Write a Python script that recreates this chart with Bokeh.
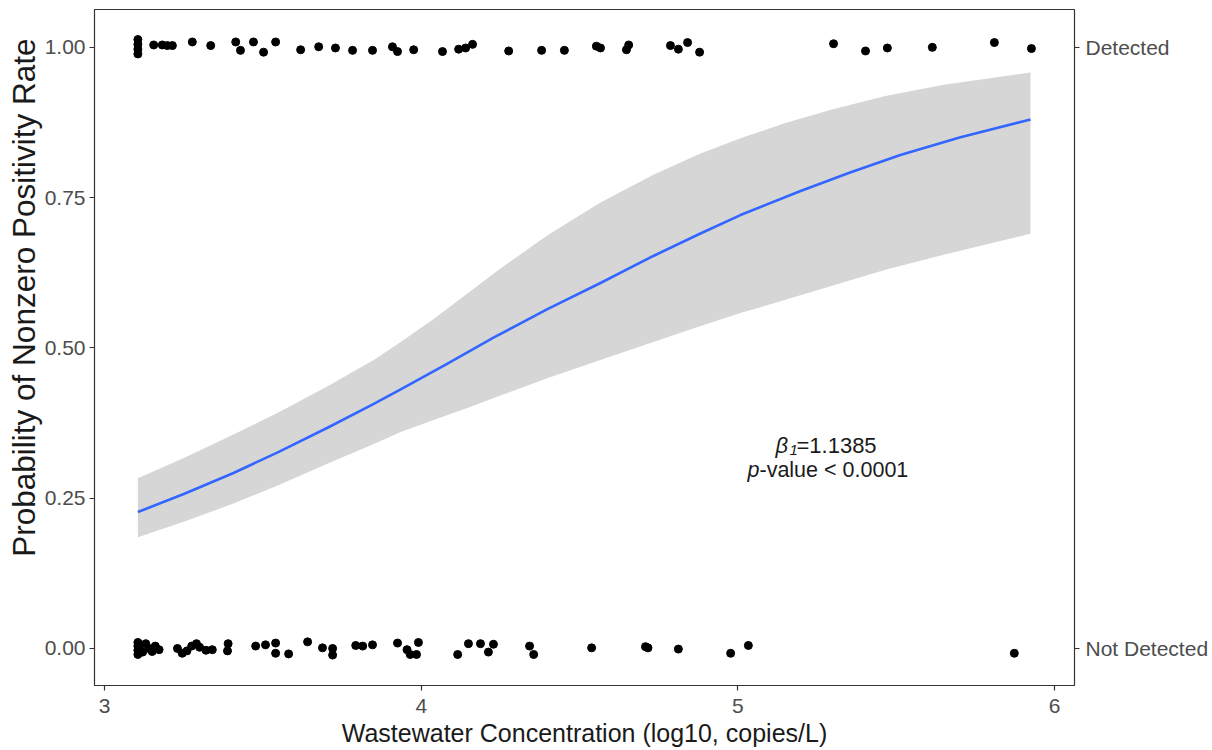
from bokeh.plotting import figure
from bokeh.models import Range1d, LinearAxis, FixedTicker, Label, Title
from bokeh.embed import file_html
from bokeh.resources import INLINE

# ---------------- data ----------------
# Detected observations (y = 1, jittered)
det_x = [3.105, 3.105, 3.105, 3.105, 3.155, 3.182, 3.198, 3.214, 3.277, 3.335,
         3.414, 3.429, 3.470, 3.502, 3.540, 3.619, 3.676, 3.729, 3.783, 3.846,
         3.909, 3.925, 3.976, 4.067, 4.118, 4.140, 4.162, 4.276, 4.380, 4.452,
         4.553, 4.566, 4.648, 4.655, 4.787, 4.812, 4.841, 4.879, 5.302, 5.403,
         5.472, 5.614, 5.810, 5.927]
det_y = [1.013, 1.005, 0.997, 0.989, 1.004, 1.004, 1.003, 1.003, 1.009, 1.003,
         1.009, 0.995, 1.009, 0.992, 1.009, 0.996, 1.001, 0.999, 0.995, 0.995,
         1.001, 0.993, 0.996, 0.993, 0.997, 0.999, 1.005, 0.994, 0.995, 0.995,
         1.002, 0.999, 0.996, 1.004, 1.003, 0.997, 1.008, 0.992, 1.006, 0.994,
         0.999, 1.000, 1.008, 0.998]

# Not detected observations (y = 0, jittered)
nd_x = [3.105, 3.105, 3.105, 3.105, 3.112, 3.120, 3.130, 3.140, 3.150, 3.160,
        3.172, 3.230, 3.245, 3.260, 3.275, 3.290, 3.300, 3.320, 3.340, 3.390,
        3.388, 3.477, 3.508, 3.540, 3.540, 3.581, 3.641, 3.688, 3.720, 3.720,
        3.793, 3.815, 3.846, 3.925, 3.955, 3.965, 3.985, 3.991, 4.115, 4.149,
        4.187, 4.212, 4.228, 4.342, 4.355, 4.538, 4.708, 4.716, 4.812, 4.977,
        5.033, 5.873]
nd_y = [0.010, 0.004, -0.003, -0.010, 0.006, -0.006, 0.008, 0.000, -0.005, 0.004,
        -0.002, 0.000, -0.008, -0.004, 0.004, 0.008, 0.002, -0.003, -0.002, 0.008,
        -0.004, 0.004, 0.006, 0.009, -0.008, -0.009, 0.011, 0.001, 0.000, -0.011,
        0.005, 0.004, 0.006, 0.009, -0.002, -0.010, -0.010, 0.010, -0.010, 0.008,
        0.008, -0.006, 0.007, 0.004, -0.010, 0.001, 0.003, 0.001, -0.001, -0.008,
        0.005, -0.008]

# Fitted logistic curve
fit_x = [3.105, 3.250, 3.407, 3.550, 3.707, 3.850, 3.935, 4.080, 4.228, 4.400,
         4.566, 4.733, 4.880, 5.008, 5.198, 5.350, 5.513, 5.700, 5.924]
fit_y = [0.227, 0.257, 0.292, 0.327, 0.368, 0.407, 0.431, 0.473, 0.517, 0.565,
         0.608, 0.653, 0.690, 0.721, 0.761, 0.791, 0.821, 0.850, 0.880]

# Confidence band
band_x = [3.105, 3.250, 3.407, 3.550, 3.707, 3.850, 3.935, 4.039, 4.150, 4.250,
          4.400, 4.566, 4.733, 4.880, 5.008, 5.150, 5.300, 5.466, 5.650, 5.924]
band_hi = [0.283, 0.317, 0.356, 0.393, 0.437, 0.480, 0.510, 0.548, 0.592, 0.632,
           0.688, 0.742, 0.788, 0.823, 0.849, 0.874, 0.897, 0.919, 0.938, 0.958]
band_lo = [0.185, 0.211, 0.241, 0.272, 0.308, 0.340, 0.360, 0.380, 0.401, 0.421,
           0.450, 0.480, 0.510, 0.536, 0.558, 0.580, 0.604, 0.630, 0.655, 0.690]

y_ticks = [0.0, 0.25, 0.5, 0.75, 1.0]
y_tick_labels = ["0.00", "0.25", "0.50", "0.75", "1.00"]
x_ticks = [3, 4, 5, 6]
right_ticks = [0, 1]
right_labels = ["Not Detected", "Detected"]

x_title = "Wastewater Concentration (log10, copies/L)"
y_title = "Probability of Nonzero Positivity Rate"

# ---------------- figure ----------------
FONT = "Liberation Sans"
TICK_COL = "#4d4d4d"
TITLE_COL = "#1a1a1a"

p = figure(width=1212, height=750, output_backend="svg", toolbar_location=None,
           x_range=Range1d(2.968, 6.063), y_range=Range1d(-0.0616, 1.063),
           min_border_left=94, min_border_right=138, min_border_top=9,
           min_border_bottom=65)
p.background_fill_color = "white"
p.border_fill_color = "white"
p.outline_line_color = "#333333"
p.outline_line_width = 1.2
p.xgrid.visible = False
p.ygrid.visible = False

# confidence band
p.varea(x=band_x, y1=band_lo, y2=band_hi, fill_color="#999999", fill_alpha=0.4)
# fitted line
p.line(fit_x, fit_y, line_color="#3366FF", line_width=2.6, line_join="round")
# points
p.scatter(det_x, det_y, size=8, color="black")
p.scatter(nd_x, nd_y, size=8, color="black")

# axes styling
def style_axis(ax, ticks, overrides, size):
    ax.ticker = FixedTicker(ticks=ticks)
    if overrides is not None:
        ax.major_label_overrides = overrides
    ax.axis_line_color = None
    ax.major_tick_line_color = "#333333"
    ax.major_tick_line_width = 1.2
    ax.major_tick_out = 5
    ax.major_tick_in = 0
    ax.minor_tick_line_color = None
    ax.major_label_text_font = FONT
    ax.major_label_text_font_size = size
    ax.major_label_text_color = TICK_COL
    ax.major_label_standoff = 5

xa = p.xaxis[0]
style_axis(xa, x_ticks, None, "21px")
xa.major_label_standoff = 8
xa.axis_label = x_title
xa.axis_label_text_font = FONT
xa.axis_label_text_font_size = "25px"
xa.axis_label_text_font_style = "normal"
xa.axis_label_text_color = TITLE_COL
xa.axis_label_standoff = 3

ya = p.yaxis[0]
style_axis(ya, y_ticks, {t: l for t, l in zip(y_ticks, y_tick_labels)}, "21px")
ya.major_label_standoff = 4

ra = LinearAxis()
style_axis(ra, right_ticks, {t: l for t, l in zip(right_ticks, right_labels)}, "21px")
ra.major_label_standoff = 6
p.add_layout(ra, "right")

# y-axis title as a left-side title, aligned towards the top of the panel
p.add_layout(Title(text=y_title, align="right", offset=29, text_font=FONT,
                   text_font_size="31.5px", text_font_style="normal",
                   text_color=TITLE_COL, standoff=0), "left")

# annotation
ax0 = 5.286
common = dict(text_font=FONT, text_color=TITLE_COL, text_baseline="alphabetic")
p.add_layout(Label(x=ax0, y=0.338, x_offset=-53, text="β", text_font_size="22px",
                   text_font_style="italic", text_align="left", **common))
p.add_layout(Label(x=ax0, y=0.3305, x_offset=-39, text="1", text_font_size="15px",
                   text_font_style="italic", text_align="left", **common))
p.add_layout(Label(x=ax0, y=0.338, x_offset=-32, text="=1.1385", text_font_size="22px",
                   text_align="left", **common))
p.add_layout(Label(x=ax0, y=0.297, x_offset=-81, text="p", text_font_size="21.5px",
                   text_font_style="italic", text_align="left", **common))
p.add_layout(Label(x=ax0, y=0.297, x_offset=-69, text="-value < 0.0001", text_font_size="21.5px",
                   text_align="left", **common))

open("out.html", "w").write(file_html(p, INLINE))
